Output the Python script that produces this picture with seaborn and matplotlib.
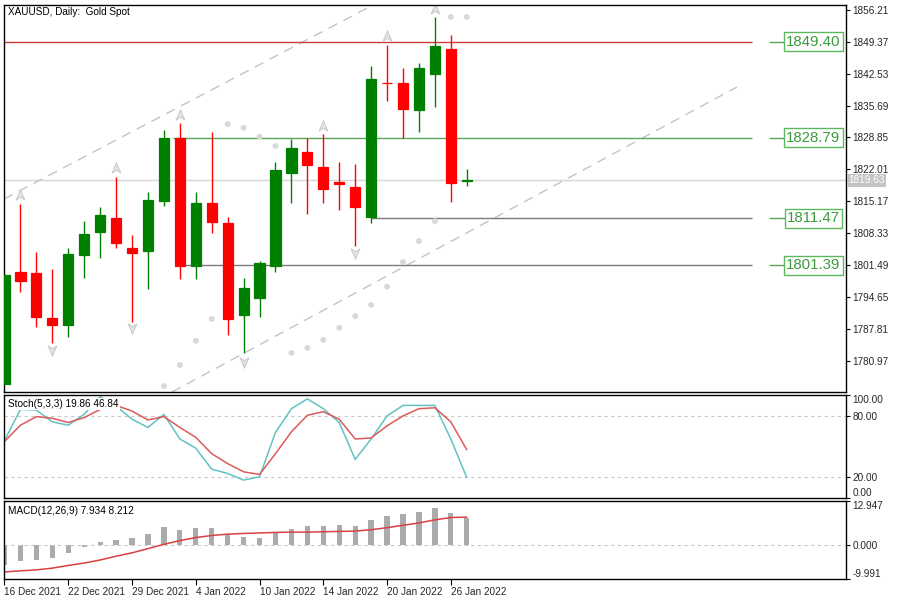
import numpy as np
import pandas as pd
import matplotlib
matplotlib.use("Agg")
import matplotlib.pyplot as plt
import matplotlib.transforms as mtransforms
from matplotlib.path import Path
import seaborn as sns

sns.set_theme(style="white")
plt.rcParams['font.family'] = ['Liberation Sans', 'DejaVu Sans']

# Daily candles (price)
opens = [1775.9, 1800.0, 1799.8, 1790.1, 1788.6, 1803.6, 1808.6, 1811.6, 1805.1, 1804.5,
         1815.2, 1828.7, 1801.3, 1814.8, 1810.5, 1790.7, 1794.4, 1801.3, 1821.2, 1825.7,
         1822.5, 1819.3, 1818.2, 1811.8, 1840.6, 1840.5, 1834.7, 1842.5, 1847.8, 1819.5]
highs = [1799.5, 1814.6, 1804.3, 1800.6, 1805.1, 1810.9, 1813.9, 1820.4, 1807.9, 1817.1,
         1830.5, 1832.0, 1817.1, 1830.0, 1811.8, 1798.7, 1802.3, 1823.6, 1828.5, 1828.7,
         1829.6, 1823.6, 1823.2, 1844.2, 1848.7, 1843.8, 1844.8, 1854.7, 1850.8, 1822.1]
lows = [1775.9, 1795.7, 1788.2, 1784.7, 1786.0, 1798.7, 1803.0, 1805.1, 1789.2, 1796.3,
        1814.1, 1798.5, 1798.5, 1808.3, 1786.4, 1782.6, 1790.3, 1800.0, 1814.8, 1812.4,
        1814.8, 1813.3, 1805.6, 1810.5, 1836.7, 1828.7, 1830.0, 1835.4, 1815.0, 1818.4]
closes = [1799.3, 1798.0, 1790.3, 1788.6, 1803.8, 1808.1, 1812.2, 1806.2, 1804.1, 1815.4,
          1828.7, 1801.3, 1814.8, 1810.7, 1789.9, 1796.5, 1801.9, 1821.9, 1826.6, 1822.9,
          1817.8, 1818.9, 1813.9, 1841.4, 1840.5, 1835.0, 1843.8, 1848.5, 1819.1, 1819.63]

date_ticks = [0, 4, 8, 12, 16, 20, 24, 28]
date_labels = ['16 Dec 2021', '22 Dec 2021', '29 Dec 2021', '4 Jan 2022',
               '10 Jan 2022', '14 Jan 2022', '20 Jan 2022', '26 Jan 2022']

price_ticks = [1856.21, 1849.37, 1842.53, 1835.69, 1828.85, 1822.01, 1815.17,
               1808.33, 1801.49, 1794.65, 1787.81, 1780.97]
last_price = 1819.63

# parabolic SAR dots
sar_idx = list(range(10, 30))
sar_vals = [1775.5, 1780.0, 1785.2, 1789.9, 1831.7, 1830.9, 1829.0, 1827.0, 1782.6, 1783.7,
            1785.4, 1788.0, 1790.5, 1792.9, 1796.8, 1802.1, 1806.6, 1810.9, 1854.7, 1854.7]

# fractals
frac_up_idx = [1, 7, 11, 20, 24, 27]
frac_up_vals = [1816.5, 1822.3, 1833.7, 1831.3, 1850.6, 1856.4]
frac_dn_idx = [3, 8, 15, 22]
frac_dn_vals = [1783.2, 1788.0, 1780.7, 1804.1]

# horizontal levels
levels = [1849.40, 1828.79, 1811.47, 1801.39]
level_start = [-0.03, 10.6, 23.0, 11.0]
level_colors = ['#cc3b3b', '#5aa55a', '#7a7a7a', '#7a7a7a']

# channel (dashed) lines: (idx, price) end points
upper_channel = ([-0.03, 23.24], [1815.64, 1857.5])
lower_channel = ([10.51, 45.95], [1774.21, 1839.68])

# Stochastic(5,3,3)
stoch_k = [55.7, 86.0, 85.4, 73.9, 70.7, 81.3, 98.2, 89.2, 76.5, 68.5,
           81.2, 57.3, 48.4, 28.0, 23.8, 17.4, 20.6, 63.7, 86.7, 96.2,
           86.7, 73.3, 37.5, 57.3, 79.7, 89.9, 89.9, 89.9, 57.3, 19.86]
stoch_d = [54.8, 70.7, 79.0, 77.4, 73.3, 78.1, 86.0, 89.9, 84.4, 75.8,
           79.0, 68.5, 58.9, 43.0, 33.4, 25.4, 22.9, 43.0, 64.3, 80.3,
           83.8, 76.5, 57.3, 58.3, 70.1, 79.7, 86.7, 87.6, 73.9, 46.84]

# MACD(12,26,9)
macd_hist = [-6.0, -4.8, -4.3, -3.9, -2.2, -0.7, 1.0, 1.5, 2.1, 3.25,
             5.26, 4.4, 5.0, 5.0, 3.25, 2.4, 2.2, 3.9, 4.8, 5.5,
             5.5, 5.8, 5.5, 7.3, 8.4, 9.0, 9.8, 10.9, 9.3, 7.934]
macd_signal = [-7.9, -7.6, -7.3, -6.8, -6.0, -5.3, -4.4, -3.3, -2.3, -1.05,
               0.2, 1.3, 2.2, 2.8, 3.2, 3.4, 3.55, 3.7, 3.8, 3.8,
               3.9, 4.0, 4.1, 4.5, 5.1, 5.8, 6.5, 7.4, 8.1, 8.212]

df = pd.DataFrame({'open': opens, 'high': highs, 'low': lows, 'close': closes})
df['idx'] = np.arange(len(df))

W, H = 898, 602
fig = plt.figure(figsize=(W / 100, H / 100), dpi=100, facecolor='white')


def px_axes(top, bottom, left=4, right=846):
    return fig.add_axes([left / W, 1 - bottom / H, (right - left) / W, (bottom - top) / H])


ax = px_axes(5, 392)
ax_st = px_axes(395, 498)
ax_md = px_axes(501, 579)

XMIN, XMAX = -0.031, 52.79
FS = 7.2

for a in (ax, ax_st, ax_md):
    a.set_facecolor('white')
    a.set_xlim(XMIN, XMAX)
    for s in a.spines.values():
        s.set_color('black')
        s.set_linewidth(1.0)
    a.yaxis.tick_right()
    a.tick_params(axis='y', which='both', right=True, left=False, length=3, width=0.8,
                  color='black', labelsize=FS, pad=1.5, direction='out')
    a.set_xlabel('')
    a.set_ylabel('')

# ---- main price panel ----
ax.set_ylim(1774.21, 1857.28)
ax.set_xticks([])
ax.axhline(last_price, color='#d6d6d6', lw=1, zorder=0)

for xs, ys in (upper_channel, lower_channel):
    ax.plot(xs, ys, color='#c4c4c4', lw=1, dashes=(7, 5), zorder=1)

for lv, st, col in zip(levels, level_start, level_colors):
    ax.hlines(lv, st, 46.9, color=col, lw=1, zorder=1)
    ax.hlines(lv, 47.96, 49.0, color='#5aa55a', lw=1)
    ax.text(50.75, lv, f'{lv:.2f}', ha='center', va='center', fontsize=10.8, color='#3d9a3d',
            bbox=dict(boxstyle='square,pad=0.15', facecolor='white', edgecolor='#5cb85c', lw=1))

sns.scatterplot(x=sar_idx, y=sar_vals, ax=ax, color='#d9d9d9', s=18, edgecolor='none',
                zorder=1, legend=False)

arrow_up = Path([(0, 1), (0.75, -0.8), (0, -0.3), (-0.75, -0.8), (0, 1)],
                [Path.MOVETO, Path.LINETO, Path.LINETO, Path.LINETO, Path.CLOSEPOLY])
arrow_dn = Path([(0, -1), (0.75, 0.8), (0, 0.3), (-0.75, 0.8), (0, -1)],
                [Path.MOVETO, Path.LINETO, Path.LINETO, Path.LINETO, Path.CLOSEPOLY])
ax.scatter(frac_up_idx, frac_up_vals, marker=arrow_up, s=70, color='#e2e2e2',
           edgecolor='#c4c4c4', lw=0.6, zorder=1)
ax.scatter(frac_dn_idx, frac_dn_vals, marker=arrow_dn, s=70, color='#e2e2e2',
           edgecolor='#c4c4c4', lw=0.6, zorder=1)

up = df['close'] >= df['open']
colors = np.where(up, '#008000', '#ff0000')
ax.vlines(df['idx'], df['low'], df['high'], colors=colors, lw=1, zorder=2)
bottoms = np.minimum(df['open'], df['close'])
heights = (df['close'] - df['open']).abs()
ax.bar(df['idx'], heights, width=0.64, bottom=bottoms, color=colors, edgecolor=colors,
       lw=0.9, zorder=3)

ax.set_yticks(price_ticks)
ax.set_yticklabels([f'{v:.2f}' for v in price_ticks])
trans = mtransforms.blended_transform_factory(ax.transAxes, ax.transData)
ax.text(1.003, last_price, f'{last_price:.2f}', transform=trans, ha='left', va='center',
        fontsize=FS, color='white',
        bbox=dict(boxstyle='square,pad=0.12', facecolor='#c4c4c4', edgecolor='none'))

# ---- stochastic panel ----
ax_st.set_ylim(0, 100)
ax_st.set_xticks([])
for lv in (80, 20):
    ax_st.axhline(lv, color='#c8c8c8', lw=0.8, dashes=(3, 3))
sns.lineplot(x=df['idx'], y=stoch_k, ax=ax_st, color='#62c2c2', lw=1.1)
sns.lineplot(x=df['idx'], y=stoch_d, ax=ax_st, color='#dc5a5a', lw=1.1)
ax_st.set_xlim(XMIN, XMAX)
ax_st.set_xlabel('')
ax_st.set_yticks([100, 80, 20, 0])
ax_st.set_yticklabels(['100.00', '80.00', '20.00', '0.00'])
ax_st.get_yticklabels()[0].set_verticalalignment('top')
ax_st.get_yticklabels()[3].set_verticalalignment('bottom')

# ---- MACD panel ----
ax_md.set_ylim(-9.991, 12.947)
ax_md.axhline(0, color='#c8c8c8', lw=0.8, dashes=(3, 3))
ax_md.bar(df['idx'], macd_hist, width=0.33, color='#ababab', edgecolor='none')
sns.lineplot(x=df['idx'], y=macd_signal, ax=ax_md, color='#d94040', lw=1.1)
ax_md.set_xlim(XMIN, XMAX)
ax_md.set_xlabel('')
ax_md.set_yticks([12.947, 0, -9.991])
ax_md.set_yticklabels(['12.947', '0.000', '-9.991'])
ax_md.get_yticklabels()[0].set_verticalalignment('top')
ax_md.get_yticklabels()[2].set_verticalalignment('bottom')
ax_md.set_xticks(date_ticks)
ax_md.set_xticklabels(date_labels)
ax_md.tick_params(axis='x', bottom=True, length=4, width=0.8, color='black',
                  labelsize=FS, pad=2, direction='out')
for lab in ax_md.get_xticklabels():
    lab.set_horizontalalignment('left')

# ---- window captions ----
fig.text(8 / W, 1 - 12 / H, 'XAUUSD, Daily:  Gold Spot', fontsize=7.2, va='center', color='black')
fig.text(8 / W, 1 - 404 / H, 'Stoch(5,3,3) 19.86 46.84', fontsize=7.2, va='center', color='black',
         bbox=dict(boxstyle='square,pad=0.1', facecolor='white', edgecolor='none'))
fig.text(8 / W, 1 - 511 / H, 'MACD(12,26,9) 7.934 8.212', fontsize=7.2, va='center', color='black')

fig.savefig('out.png', dpi=100, facecolor='white')
